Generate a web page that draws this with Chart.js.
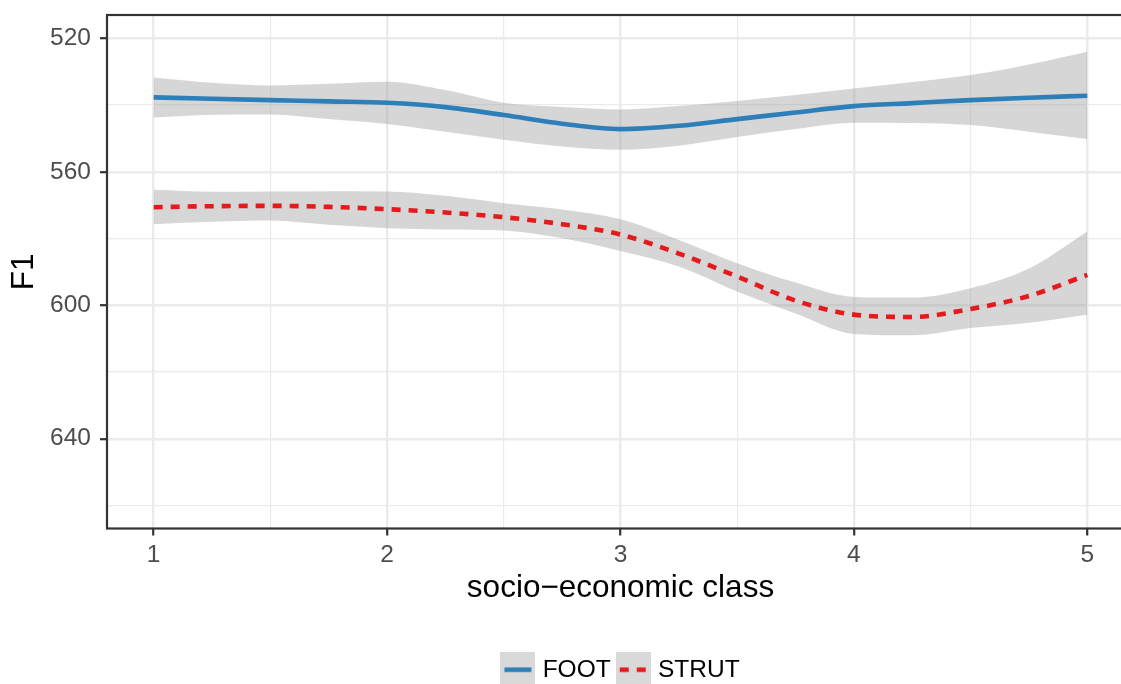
<!DOCTYPE html>
<html>
<head>
<meta charset="utf-8">
<script src="https://cdn.jsdelivr.net/npm/chart.js@4.4.0/dist/chart.umd.min.js"></script>
<style>
  html, body { margin: 0; padding: 0; background: #fff; overflow: hidden; }
  #wrap { width: 1121px; height: 684px; overflow: hidden; }
</style>
</head>
<body>
<div id="wrap"><canvas id="chart" width="1245" height="692"></canvas></div>
<script>
// socio-economic class along x, F1 (Hz) on a reversed y axis
const classes = [1, 1.25, 1.5, 1.75, 2, 2.25, 2.5, 2.75, 3, 3.25, 3.5, 3.75, 4, 4.25, 4.5, 4.75, 5];

const footF1  = [537.7, 538.1, 538.5, 538.9, 539.3, 540.6, 543.0, 545.6, 547.2, 546.2, 544.2, 542.2, 540.3, 539.4, 538.5, 537.8, 537.2];
const footLo  = [531.7, 533.3, 534.1, 533.6, 533.0, 535.5, 539.3, 540.6, 541.3, 540.3, 538.8, 537.0, 535.0, 533.1, 531.0, 527.8, 524.0];
const footHi  = [543.7, 542.9, 542.8, 544.2, 545.7, 548.0, 550.4, 552.4, 553.4, 552.2, 549.6, 547.2, 545.3, 545.4, 546.0, 548.0, 550.2];

const strutF1 = [570.6, 570.3, 570.2, 570.5, 571.2, 572.2, 573.6, 575.7, 578.8, 584.5, 591.4, 598.6, 602.8, 603.5, 601.1, 597.2, 590.9];
const strutLo = [565.4, 566.0, 565.9, 565.8, 565.9, 567.2, 569.4, 571.3, 574.2, 580.4, 587.4, 593.2, 597.5, 597.7, 594.9, 589.0, 577.9];
const strutHi = [575.7, 575.0, 574.6, 575.9, 576.9, 577.3, 577.6, 579.9, 583.7, 588.4, 595.9, 602.5, 608.6, 609.0, 606.8, 605.2, 602.8];

const seriesNames = ['FOOT', 'STRUT'];
const xTicks = [1, 1.5, 2, 2.5, 3, 3.5, 4, 4.5, 5];
const yTicks = [520, 540, 560, 580, 600, 620, 640, 660];
const yLabelled = [520, 560, 600, 640];

const FONT = '"Liberation Sans", Arial, Helvetica, sans-serif';
const BLUE = '#2c7fb8';
const RED = '#e41a1c';
const BAND = 'rgba(153,153,153,0.4)';
const GRID = '#ebebeb';
const INK = '#333333';

const pts = ys => classes.map((x, i) => ({ x: x, y: ys[i] }));

// legend keys: grey square with the line style drawn across it
function makeKey(color, dash) {
    const c = document.createElement('canvas');
    c.width = 35;
    c.height = 35;
    const g = c.getContext('2d');
    g.fillStyle = '#d9d9d9';
    g.fillRect(0, 0, 35, 35);
    g.strokeStyle = color;
    g.lineWidth = 4.6;
    g.setLineDash(dash);
    g.beginPath();
    g.moveTo(4, 17.5);
    g.lineTo(31, 17.5);
    g.stroke();
    return c;
}
const keys = [makeKey(BLUE, []), makeKey(RED, [9, 8])];

const panelBorder = {
    id: 'panelBorder',
    afterDatasetsDraw(chart) {
        const { ctx, chartArea: a } = chart;
        ctx.save();
        ctx.strokeStyle = INK;
        ctx.lineWidth = 2.2;
        ctx.strokeRect(a.left, a.top, a.right - a.left, a.bottom - a.top);
        ctx.restore();
    }
};

const band = (data, fill) => ({
    data: pts(data),
    borderWidth: 0,
    borderColor: 'rgba(0,0,0,0)',
    backgroundColor: BAND,
    fill: fill,
    pointRadius: 0,
    cubicInterpolationMode: 'monotone',
    order: 1
});

new Chart(document.getElementById('chart'), {
    type: 'line',
    data: {
        datasets: [
            {
                label: seriesNames[0],
                data: pts(footF1),
                borderColor: BLUE,
                borderWidth: 4.6,
                pointRadius: 0,
                fill: false,
                cubicInterpolationMode: 'monotone',
                order: 0
            },
            {
                label: seriesNames[1],
                data: pts(strutF1),
                borderColor: RED,
                borderWidth: 4.6,
                borderDash: [9, 8],
                pointRadius: 0,
                fill: false,
                cubicInterpolationMode: 'monotone',
                order: 0
            },
            band(footLo, false),
            band(footHi, 2),
            band(strutLo, false),
            band(strutHi, 4)
        ]
    },
    options: {
        responsive: false,
        animation: false,
        layout: { padding: { top: 15, left: 0, right: 0, bottom: 0 } },
        plugins: {
            legend: {
                position: 'bottom',
                onClick: null,
                labels: {
                    usePointStyle: true,
                    pointStyleWidth: 25,
                    boxHeight: 24,
                    padding: 10,
                    color: '#000',
                    font: { family: FONT, size: 24.5 },
                    generateLabels: () => seriesNames.map((name, i) => ({
                        text: name,
                        pointStyle: keys[i],
                        fillStyle: 'rgba(0,0,0,0)',
                        strokeStyle: 'rgba(0,0,0,0)',
                        lineWidth: 0,
                        hidden: false,
                        datasetIndex: i
                    }))
                }
            },
            tooltip: { enabled: false }
        },
        scales: {
            x: {
                type: 'linear',
                min: 0.8,
                max: 5.2,
                afterBuildTicks: s => { s.ticks = xTicks.map(v => ({ value: v })); },
                afterFit: s => { s.height = 119; s.paddingLeft = 0; s.paddingRight = 0; },
                border: { display: false },
                grid: {
                    color: GRID,
                    lineWidth: c => Number.isInteger(c.tick.value) ? 2.4 : 1.2,
                    tickLength: 7,
                    tickColor: c => Number.isInteger(c.tick.value) ? INK : 'rgba(0,0,0,0)',
                    tickWidth: 2.2
                },
                ticks: {
                    autoSkip: false,
                    maxRotation: 0,
                    padding: 5,
                    color: '#4d4d4d',
                    font: { family: FONT, size: 24.5 },
                    callback: v => Number.isInteger(v) ? String(v) : ''
                },
                title: {
                    display: true,
                    text: 'socio\u2212economic class',
                    color: '#000',
                    font: { family: FONT, size: 31.5 },
                    padding: { top: 0, bottom: 40 }
                }
            },
            y: {
                type: 'linear',
                reverse: true,
                min: 513.0,
                max: 666.9,
                afterBuildTicks: s => { s.ticks = yTicks.map(v => ({ value: v })); },
                afterFit: s => { s.width = 107; s.paddingTop = 0; s.paddingBottom = 0; },
                border: { display: false },
                grid: {
                    color: GRID,
                    lineWidth: c => yLabelled.includes(c.tick.value) ? 2.4 : 1.2,
                    tickLength: 7,
                    tickColor: c => yLabelled.includes(c.tick.value) ? INK : 'rgba(0,0,0,0)',
                    tickWidth: 2.2
                },
                ticks: {
                    autoSkip: false,
                    padding: 9,
                    color: '#4d4d4d',
                    font: { family: FONT, size: 24.5 },
                    callback: v => yLabelled.includes(v) ? String(v) : ''
                },
                title: {
                    display: true,
                    text: 'F1',
                    color: '#000',
                    font: { family: FONT, size: 31.5 },
                    padding: { top: 5.7, bottom: 0 }
                }
            },
            // empty right-hand strip so the panel and legend sit where the original put them
            spacer: {
                type: 'linear',
                position: 'right',
                afterFit: s => { s.width = 111; s.paddingTop = 0; s.paddingBottom = 0; },
                border: { display: false },
                grid: { display: false },
                ticks: { display: false }
            }
        }
    },
    plugins: [panelBorder]
});
</script>
</body>
</html>
